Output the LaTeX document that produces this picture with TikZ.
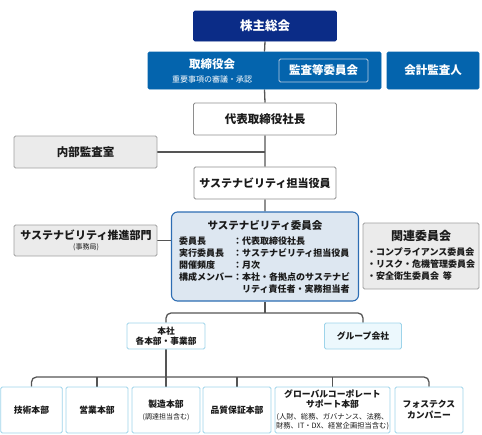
\documentclass[tikz,border=0pt]{standalone}
\usepackage{fontspec}
\setmainfont{Noto Sans CJK JP}
\usetikzlibrary{backgrounds}
\definecolor{navyC}{HTML}{0B2C87}
\definecolor{blueC}{HTML}{0464AD}
\definecolor{kansaC}{HTML}{B9CBE0}
\definecolor{commFill}{HTML}{DDE7F1}
\definecolor{commDraw}{HTML}{2D6DB3}
\definecolor{greyFill}{HTML}{EBEBEB}
\definecolor{greyDraw}{HTML}{A0A0A0}
\definecolor{whiteDraw}{HTML}{8E8E8E}
\definecolor{lbDraw}{HTML}{9ED4EA}
\definecolor{lbFill}{HTML}{ECF8FD}
\definecolor{lineC}{HTML}{555555}
\definecolor{txtC}{HTML}{1A1A1A}
\newcommand\fsz[1]{\fontsize{#1}{#1}\selectfont}
\tikzset{
  basebox/.style={rounded corners=1.5pt, inner sep=0pt, line width=0.8pt, align=center},
  navybox/.style={basebox, fill=navyC, draw=navyC, text=white},
  bluebox/.style={basebox, fill=blueC, draw=blueC, text=white},
  kansabox/.style={basebox, fill=blueC, draw=kansaC, text=white, line width=0.9pt},
  whitebox/.style={basebox, fill=white, draw=whiteDraw, text=txtC},
  greybox/.style={basebox, fill=greyFill, draw=greyDraw, text=txtC},
  commbox/.style={basebox, rounded corners=6pt, fill=commFill, draw=commDraw, line width=1.1pt},
  lbbox/.style={basebox, fill=white, draw=lbDraw, text=txtC},
  lbfbox/.style={basebox, fill=lbFill, draw=lbDraw, text=txtC},
  wtxt/.style={inner sep=0pt, text=white},
  ktxt/.style={inner sep=0pt, text=txtC},
  conn/.style={draw=lineC, line width=1.3pt},
}
\begin{document}
\begin{tikzpicture}[x=1pt,y=-1pt]
\useasboundingbox (0,0) rectangle (482,434);
% top
\node[navybox, minimum width=143pt, minimum height=30pt, font=\fsz{12.5}\bfseries] (kabu) at (265,26) {株主総会};
\node[bluebox, minimum width=233pt, minimum height=37pt] (tori) at (264.5,70.5) {};
\node[wtxt, font=\fsz{11.5}\bfseries] (toriT) at (212,64) {取締役会};
\node[wtxt, font=\fsz{8}] (toriS) at (212,79) {重要事項の審議・承認};
\node[kansabox, minimum width=89pt, minimum height=23pt, font=\fsz{11.5}\bfseries] (kansa) at (323.5,70.5) {監査等委員会};
\node[bluebox, minimum width=92pt, minimum height=37pt, font=\fsz{11.5}\bfseries] (kaikei) at (433,70.5) {会計監査人};
\node[whitebox, minimum width=143pt, minimum height=32pt, font=\fsz{11.5}\bfseries] (daihyo) at (265,119) {代表取締役社長};
\node[greybox, minimum width=143pt, minimum height=32pt, font=\fsz{11.5}\bfseries] (naibu) at (85.5,152) {内部監査室};
\node[whitebox, minimum width=142pt, minimum height=32pt, font=\fsz{11}\bfseries] (tanto) at (265,183) {サステナビリティ担当役員};
% committee
\node[commbox, minimum width=187pt, minimum height=89pt] (iinkai) at (265,256.5) {};
\node[ktxt, font=\fsz{10.5}\bfseries] (iinkaiT) at (265,225) {サステナビリティ委員会};
\node[ktxt, anchor=north west, font=\fontsize{9}{12}\selectfont\bfseries] (iinkaiB) at (179,235.7) {%
\begin{tabular}{@{}l@{}l@{}l@{}}
委員長 & ： & 代表取締役社長\\
実行委員長 & ： & サステナビリティ担当役員\\
開催頻度 & ： & 月次\\
構成メンバー & ： & 本社・各拠点のサステナビ\\
 & & リティ責任者・実務担当者
\end{tabular}};
\node[greybox, minimum width=143pt, minimum height=31pt] (suishin) at (85.5,240.5) {};
\node[ktxt, font=\fsz{11}\bfseries] (suishinT) at (86,235) {サステナビリティ推進部門};
\node[ktxt, font=\fsz{7}] (suishinS) at (86,247.5) {(事務局)};
\node[greybox, minimum width=116pt, minimum height=66pt] (kanren) at (421,256) {};
\node[ktxt, font=\fsz{12}\bfseries] (kanrenT) at (421,236) {関連委員会};
\node[ktxt, anchor=north west, align=left, font=\fontsize{9}{12.2}\selectfont\bfseries] (kanrenB) at (367,247.3) {・コンプライアンス委員会\\・リスク・危機管理委員会\\・安全衛生委員会\hspace{0.4em}等};
% middle level
\node[lbbox, minimum width=78pt, minimum height=26pt] (honsha) at (166,336) {};
\node[ktxt, font=\fsz{8.7}\bfseries] (honshaT) at (166,330.7) {本社};
\node[ktxt, font=\fsz{8.7}\bfseries] (honshaS) at (166,340.9) {各本部・事業部};
\node[lbfbox, minimum width=77pt, minimum height=26pt, font=\fsz{8.8}\bfseries] (group) at (363,336) {グループ会社};
% bottom level
\node[lbbox, minimum width=61.5pt, minimum height=46pt, font=\fsz{8.8}\bfseries] (gijutsu) at (31.5,410) {技術本部};
\node[lbbox, minimum width=62pt, minimum height=46pt, font=\fsz{8.8}\bfseries] (eigyo) at (97,410) {営業本部};
\node[lbbox, minimum width=68pt, minimum height=46pt] (seizo) at (166,410) {};
\node[ktxt, font=\fsz{8.8}\bfseries] (seizoT) at (166,404) {製造本部};
\node[ktxt, font=\fsz{7}] (seizoS) at (166,417) {(調達担当含む)};
\node[lbbox, minimum width=68pt, minimum height=46pt, font=\fsz{8.8}\bfseries] (hinshitsu) at (237,410) {品質保証本部};
\node[lbbox, minimum width=115pt, minimum height=46pt] (global) at (332.5,410) {};
\node[ktxt, font=\fsz{8.8}\bfseries] (globalT) at (332.5,394) {グローバルコーポレート};
\node[ktxt, font=\fsz{8.8}\bfseries] (globalT2) at (332.5,404.5) {サポート本部};
\node[ktxt, font=\fsz{7.3}] (globalS) at (332.5,417) {(人財、総務、ガバナンス、法務、};
\node[ktxt, font=\fsz{7.3}] (globalS2) at (332.5,426.5) {財務、IT・DX、経営企画担当含む)};
\node[lbbox, minimum width=68pt, minimum height=46pt] (fostex) at (429,410) {};
\node[ktxt, font=\fsz{8.8}\bfseries] (fostexT) at (429,404) {フォステクス};
\node[ktxt, font=\fsz{8.8}\bfseries] (fostexS) at (429,415) {カンパニー};
% connectors
\coordinate (b1) at (265,313);
\coordinate (b2) at (166,377);
\begin{scope}[on background layer]
\draw[conn] (kabu.south) -- (tori.north) (tori.south) -- (daihyo.north)
  (daihyo.south) -- (tanto.north) (tanto.south) -- (iinkai.north);
\draw[conn] (naibu.east) -- (naibu.east -| daihyo.south);
\draw[conn] (suishin.east) -- (suishin.east -| iinkai.west);
\draw[conn] (iinkai.south) -- (b1);
\draw[conn, rounded corners=5pt] (honsha.north) |- (b1) -| (group.north);
\draw[conn] (honsha.south) -- (seizo.north);
\draw[conn, rounded corners=5pt] (gijutsu.north) |- (b2) -| (fostex.north);
\draw[conn] (eigyo.north) -- (eigyo.north |- b2);
\draw[conn] (hinshitsu.north) -- (hinshitsu.north |- b2);
\draw[conn] (global.north) -- (global.north |- b2);
\end{scope}
\end{tikzpicture}
\end{document}
